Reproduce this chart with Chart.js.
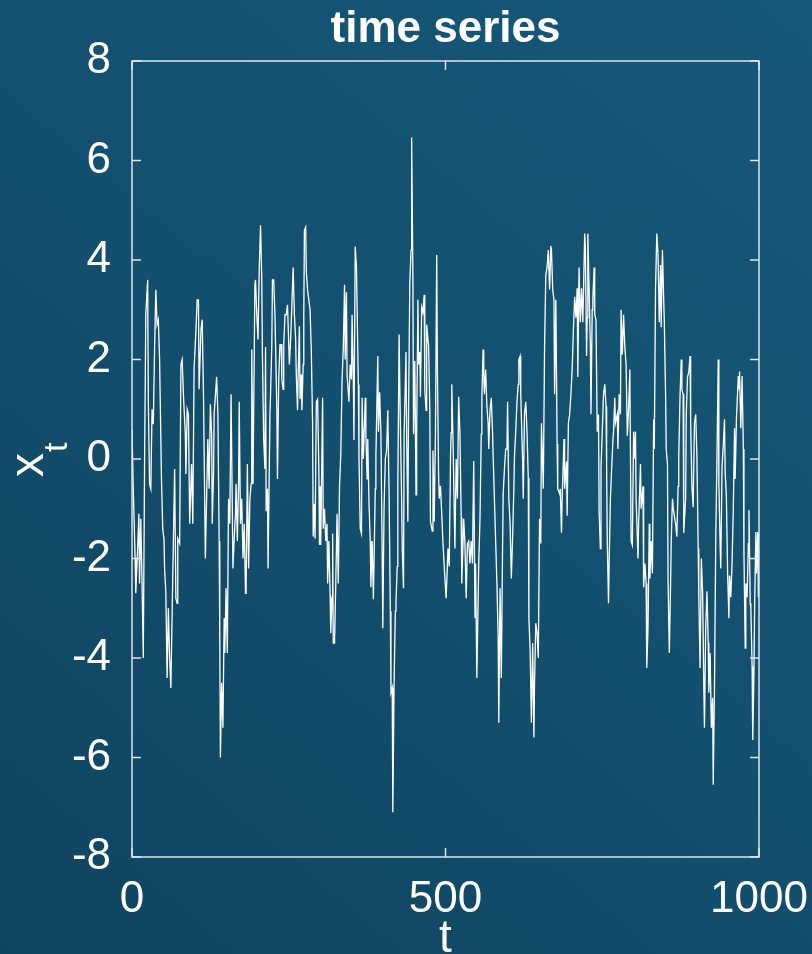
<!DOCTYPE html>
<html>
<head>
<meta charset="utf-8">
<title>time series</title>
<script src="https://cdn.jsdelivr.net/npm/chart.js@4.4.1/dist/chart.umd.min.js"></script>
<style>
  html, body { margin: 0; padding: 0; }
  body {
    width: 812px; height: 954px; overflow: hidden;
    background: linear-gradient(40deg, #0f4460 0%, #134f6e 50%, #165878 100%);
  }
  canvas { display: block; }
</style>
</head>
<body>
<canvas id="chart" width="812" height="954"></canvas>
<script>
// values (t, x_t)
const tSteps = [
  0, 2, 5, 6, 9, 11, 12, 14, 16, 18,
  20, 22, 25, 26, 28, 30, 32, 34, 36, 38,
  40, 42, 44, 47, 49, 51, 52, 54, 56, 58,
  60, 62, 64, 68, 70, 72, 73, 76, 78, 80,
  82, 85, 86, 88, 90, 92, 95, 97, 99, 102,
  104, 106, 107, 110, 112, 114, 117, 121, 123, 125,
  127, 128, 130, 131, 135, 137, 139, 140, 141, 143,
  145, 147, 148, 150, 152, 154, 156, 158, 161, 163,
  165, 166, 168, 170, 171, 173, 175, 177, 179, 181,
  182, 184, 186, 188, 190, 191, 193, 196, 197, 199,
  201, 203, 205, 207, 208, 210, 212, 213, 214, 216,
  217, 220, 221, 223, 224, 226, 228, 231, 232, 234,
  236, 238, 239, 241, 242, 244, 246, 248, 251, 253,
  255, 257, 259, 261, 262, 264, 265, 267, 268, 270,
  271, 273, 274, 275, 277, 278, 280, 282, 284, 286,
  288, 289, 291, 292, 294, 296, 298, 299, 300, 301,
  304, 305, 307, 309, 311, 312, 314, 316, 317, 319,
  320, 321, 323, 325, 327, 329, 331, 333, 335, 337,
  339, 340, 342, 343, 346, 348, 350, 351, 353, 354,
  356, 358, 361, 362, 364, 366, 367, 369, 372, 373,
  375, 376, 378, 380, 381, 383, 385, 388, 389, 392,
  393, 395, 397, 399, 400, 402, 404, 406, 408, 410,
  412, 413, 415, 416, 418, 420, 421, 423, 424, 426,
  428, 430, 431, 433, 434, 437, 438, 440, 441, 443,
  445, 446, 448, 449, 451, 453, 454, 456, 457, 459,
  460, 462, 464, 466, 467, 469, 470, 472, 473, 475,
  476, 479, 480, 482, 484, 486, 487, 489, 490, 492,
  494, 496, 498, 500, 501, 504, 506, 508, 509, 510,
  512, 514, 515, 517, 519, 521, 523, 525, 526, 529,
  531, 533, 535, 537, 539, 541, 543, 545, 547, 548,
  550, 553, 555, 557, 558, 560, 561, 562, 564, 566,
  568, 569, 571, 573, 575, 576, 578, 580, 582, 584,
  585, 587, 589, 591, 592, 594, 596, 598, 599, 601,
  603, 605, 607, 609, 610, 612, 614, 616, 617, 619,
  620, 623, 624, 626, 628, 630, 632, 633, 635, 637,
  639, 641, 642, 644, 646, 648, 650, 652, 653, 656,
  658, 660, 662, 664, 666, 668, 669, 671, 673, 674,
  676, 678, 679, 682, 683, 685, 686, 689, 690, 693,
  694, 696, 698, 700, 702, 704, 706, 708, 710, 711,
  713, 715, 717, 719, 720, 722, 723, 725, 726, 727,
  728, 731, 732, 734, 735, 737, 738, 740, 742, 744,
  745, 747, 748, 750, 752, 754, 756, 757, 758, 760,
  761, 763, 765, 767, 768, 770, 771, 774, 775, 777,
  779, 780, 782, 784, 786, 788, 790, 792, 794, 796,
  798, 800, 801, 803, 804, 807, 808, 811, 812, 815,
  816, 818, 820, 821, 823, 825, 826, 828, 830, 832,
  833, 835, 837, 839, 841, 843, 844, 846, 848, 849,
  851, 852, 854, 855, 857, 859, 860, 862, 863, 866,
  867, 869, 871, 872, 874, 876, 877, 879, 880, 883,
  884, 886, 888, 890, 891, 893, 895, 897, 899, 901,
  903, 904, 906, 908, 910, 912, 913, 915, 917, 919,
  920, 922, 924, 926, 927, 929, 931, 933, 935, 936,
  938, 939, 941, 943, 945, 946, 948, 950, 952, 953,
  955, 957, 959, 961, 962, 964, 967, 968, 969, 971,
  973, 975, 976, 978, 979, 981, 983, 984, 986, 987,
  989, 990, 992, 993, 995, 996, 998, 999, 1000
];

const xValues = [
  0.6, -0.6, -2.0, -2.7, -1.8, -1.1, -2.5, -1.2, -2.5, -4.0,
  -0.2, 2.9, 3.6, 1.2, -0.5, -0.6, 1.0, 0.7, 2.2, 3.4,
  2.7, 2.8, 2.0, -0.4, -1.4, -1.6, -2.2, -2.7, -4.4, -3.0,
  -4.0, -4.6, -3.1, -0.2, -2.8, -2.9, -1.6, -1.7, 1.9, 2.0,
  1.3, 0.5, -0.3, 1.0, 0.9, -1.3, -0.1, -1.3, 1.8, 2.6,
  3.2, 3.2, 1.4, 2.6, 2.8, 1.3, -2.0, 0.4, -0.6, 1.1,
  0.5, -1.3, -0.3, 0.9, 1.65, 0.9, -1.65, -3.6, -6.0, -4.5,
  -5.4, -3.2, -3.9, -2.6, -3.9, -0.8, -1.3, 1.3, -2.2, -1.6,
  -1.1, -0.5, -1.65, -0.5, 1.15, -1.3, -0.8, -2.0, -1.3, -2.7,
  -2.7, -0.1, -2.2, -0.8, -0.5, 2.2, -0.5, 3.5, 3.6, 2.9,
  2.4, 3.85, 4.7, 3.6, 2.1, 0.4, -0.2, 2.25, -1.05, -0.6,
  -2.2, 0.9, 1.3, 2.3, 3.6, 3.6, 2.9, 1.0, -0.4, 1.6,
  2.3, 2.3, 1.6, 1.4, 2.3, 2.9, 2.9, 3.1, 1.9, 2.4,
  3.1, 3.85, 2.9, 2.4, 1.7, 0.98, 1.7, 2.67, 1.2, 1.7,
  0.98, 1.9, 2.9, 4.6, 4.66, 3.77, 3.4, 3.2, 3.0, 2.16,
  0.72, -1.56, -0.9, -1.6, 1.15, 1.2, -0.2, -1.73, -0.55, -1.73,
  1.23, -1.4, -1.0, -1.65, -1.3, -2.5, -1.65, -2.74, -3.5, -2.8,
  -1.5, -3.7, -3.7, -2.5, -1.1, -2.5, -0.55, 0.1, 1.57, 2.25,
  3.5, 2.0, 3.35, 1.7, 1.15, 1.9, 1.6, 2.9, 1.6, 0.38,
  4.27, 3.85, 1.5, 0.05, -1.4, -1.5, 1.23, 0.0, 1.23, 0.5,
  -0.4, 0.4, -0.9, -1.65, -2.58, -1.65, -2.82, -0.6, 0.05, 2.07,
  0.55, 1.34, 0.5, -1.9, -3.4, -1.0, 0.0, 0.17, 0.98, -0.7,
  -3.06, -4.7, -4.6, -7.1, -4.5, -3.06, -2.9, -2.16, -0.54, 2.5,
  0.7, -0.8, -1.8, -2.6, 0.5, 2.15, 0.5, -1.26, 0.8, 3.5,
  4.2, 6.46, 3.68, 0.5, 1.97, -0.72, 0.5, 3.2, 1.9, 2.15,
  1.25, 3.05, 2.95, 3.3, 1.4, 0.98, 2.7, 2.4, 2.3, 0.98,
  -1.26, -1.45, 0.17, -1.26, 0.53, 4.1, 1.9, -0.36, -0.8, -0.54,
  -1.1, -1.7, -2.16, -2.6, -2.8, -1.8, -2.16, 0.08, 0.53, 1.5,
  0.35, -1.1, -1.8, 0.0, -0.8, 1.25, 0.53, -1.17, -2.5, -1.2,
  -1.7, -2.8, -1.7, -1.65, -2.1, -1.65, -2.1, -0.04, -3.2, -2.1,
  -4.4, -2.1, -1.2, 0.5, 1.23, 2.2, 1.7, 1.3, 1.8, 1.06,
  0.72, 0.2, 0.98, 1.23, 0.55, 0.05, -0.8, -1.65, -2.5, -3.6,
  -5.3, -2.6, -4.4, -1.8, -0.7, -0.2, 0.2, 0.2, 1.15, -0.8,
  -1.3, -2.4, -1.6, -0.6, 0.05, 0.55, 1.15, 1.5, 2.0, 2.07,
  1.3, -0.04, -0.8, 0.9, 1.15, 0.55, -0.38, -3.2, -3.85, -5.3,
  -3.7, -5.6, -4.5, -3.3, -3.5, -4.0, -1.2, -1.7, 0.72, -0.6,
  2.25, 3.7, 3.85, 4.2, 3.4, 4.28, 4.2, 3.4, 3.2, 1.3,
  3.2, 0.3, -0.6, -0.7, -0.6, -1.48, -0.8, 0.4, -0.6, -0.05,
  -1.14, 0.72, 0.9, 1.3, 1.8, 2.6, 3.26, 2.84, 3.43, 1.65,
  3.85, 2.75, 3.43, 2.75, 3.3, 4.53, 4.28, 2.07, 2.84, 4.53,
  4.0, 2.3, 0.9, 3.0, 3.2, 3.85, 2.9, 2.8, 0.55, 0.9,
  -1.05, -1.8, -0.2, 0.55, 1.3, 1.5, 1.06, -0.2, -1.65, -2.9,
  -2.1, -0.8, -0.2, 0.38, 0.55, 1.23, 0.72, 0.9, 0.2, 1.3,
  0.9, 3.0, 2.1, 2.9, 2.25, 1.9, 0.47, 1.0, 1.8, -1.65,
  -1.73, 0.55, 0.0, 0.55, -0.8, -2.0, -1.3, -0.1, -1.0, -0.55,
  -2.58, -2.1, -2.5, -4.2, -3.4, -1.3, -2.4, -1.65, -2.3, 0.8,
  0.2, 3.43, 4.53, 4.1, 2.75, 3.9, 2.65, 4.2, 3.2, 2.75,
  1.3, 0.2, -0.1, -2.5, -3.9, -2.5, -1.65, -0.8, -0.97, -1.23,
  -1.3, -1.56, -0.55, 0.05, 1.23, 2.0, 1.4, 1.3, -1.48, -0.8,
  0.9, 1.65, 1.74, 2.07, 0.72, -0.55, -0.97, 0.72, 0.9, 0.05,
  -1.8, -2.75, -4.2, -2.0, -2.66, -4.6, -5.4, -3.4, -2.66, -3.7,
  -4.7, -3.9, -5.4, -4.8, -6.55, -4.6, -1.65, 0.05, 2.0, -0.5,
  -1.73, -2.2, -0.16, 0.27, 0.8, -0.25, -0.77, -2.34, -3.2, -2.34,
  -2.78, -2.1, -1.03, 0.62, -0.4, 0.8, 1.67, 1.4, 1.76, 0.62,
  1.67, 0.2, -1.9, -3.8, -2.5, -2.78, -1.7, -1.03, -2.9, -3.0,
  -4.17, -5.65, -4.26, -3.0, -1.47, -2.3, -1.47, -2.78, -1.5
];

const xTicks = [0, 500, 1000];
const yTicks = [-8, -6, -4, -2, 0, 2, 4, 6, 8];
const titleText = 'time series';

if (tSteps.length !== xValues.length) console.error('length mismatch', tSteps.length, xValues.length);

const points = tSteps.map((t, i) => ({ x: t, y: xValues[i] }));

// box, inward ticks, title and axis labels
const frame = {
  id: 'frame',
  afterDraw(chart) {
    const { ctx, chartArea: a, scales: { x, y } } = chart;
    ctx.save();
    ctx.strokeStyle = '#dce5eb';
    ctx.lineWidth = 1.5;
    ctx.strokeRect(a.left, a.top, a.right - a.left, a.bottom - a.top);
    ctx.beginPath();
    yTicks.forEach(v => {
      const py = y.getPixelForValue(v);
      ctx.moveTo(a.left, py); ctx.lineTo(a.left + 9, py);
      ctx.moveTo(a.right, py); ctx.lineTo(a.right - 9, py);
    });
    xTicks.forEach(v => {
      const px = x.getPixelForValue(v);
      ctx.moveTo(px, a.bottom); ctx.lineTo(px, a.bottom - 9);
      ctx.moveTo(px, a.top); ctx.lineTo(px, a.top + 9);
    });
    ctx.stroke();

    const cx = (a.left + a.right) / 2;
    ctx.fillStyle = '#ffffff';
    ctx.textAlign = 'center';
    ctx.textBaseline = 'alphabetic';
    ctx.font = 'bold 44px "Liberation Sans", Arial, sans-serif';
    ctx.fillText(titleText, cx, 42);

    ctx.font = '46px "Liberation Sans", Arial, sans-serif';
    ctx.fillText('t', cx, 952);

    // y label: x with subscript t, rotated
    ctx.translate(43, (a.top + a.bottom) / 2 + 6);
    ctx.rotate(-Math.PI / 2);
    ctx.font = '48px "Liberation Sans", Arial, sans-serif';
    ctx.fillText('x', 0, 0);
    ctx.textAlign = 'left';
    ctx.font = '34px "Liberation Sans", Arial, sans-serif';
    ctx.fillText('t', 13, 24);
    ctx.restore();
  }
};

new Chart(document.getElementById('chart'), {
  type: 'line',
  data: {
    datasets: [{
      data: points,
      borderColor: '#ffffff',
      borderWidth: 1.3,
      pointRadius: 0,
      tension: 0,
      fill: false
    }]
  },
  options: {
    responsive: false,
    animation: false,
    layout: { padding: { top: 61, right: 53, left: 0, bottom: 0 } },
    plugins: { legend: { display: false }, tooltip: { enabled: false } },
    scales: {
      x: {
        type: 'linear',
        min: 0, max: 1000,
        afterFit: s => { s.height = 97; s.paddingRight = 0; s.paddingLeft = 0; },
        afterBuildTicks: s => { s.ticks = xTicks.map(v => ({ value: v })); },
        grid: { display: false },
        border: { display: false },
        ticks: {
          color: '#ffffff',
          padding: 8,
          maxRotation: 0,
          autoSkip: false,
          callback: v => String(v),
          font: { family: '"Liberation Sans", Arial, sans-serif', size: 44 }
        }
      },
      y: {
        min: -8, max: 8,
        afterFit: s => { s.width = 132; },
        afterBuildTicks: s => { s.ticks = yTicks.map(v => ({ value: v })); },
        grid: { display: false },
        border: { display: false },
        ticks: {
          color: '#ffffff',
          padding: 13,
          autoSkip: false,
          callback: v => String(v),
          font: { family: '"Liberation Sans", Arial, sans-serif', size: 44 }
        }
      }
    }
  },
  plugins: [frame]
});
</script>
</body>
</html>
